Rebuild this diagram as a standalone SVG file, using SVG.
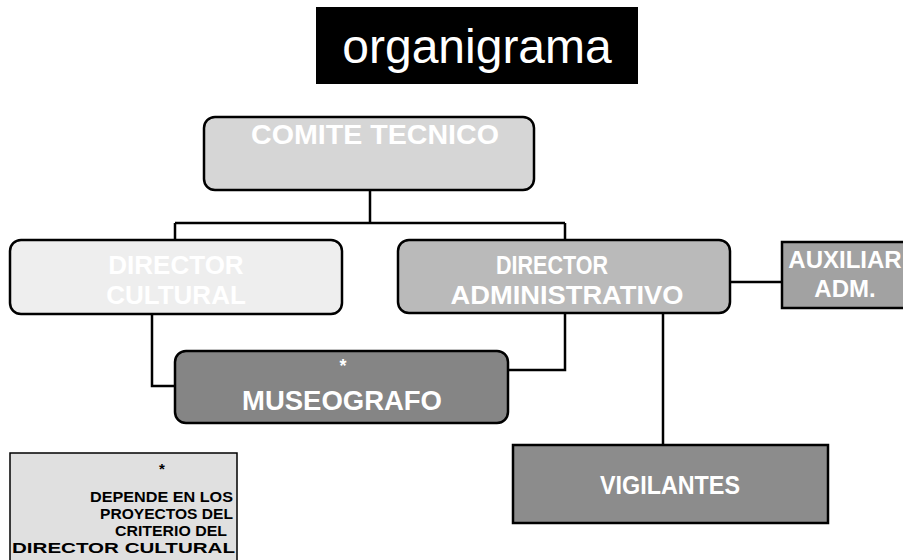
<svg xmlns="http://www.w3.org/2000/svg" width="903" height="560" viewBox="0 0 903 560">
  <style>
    .box { stroke: #000; stroke-width: 2.5; }
    .lbl { font-family: "Liberation Sans", Arial, sans-serif; font-weight: bold; fill: #fff; text-anchor: middle; }
    .note { font-family: "Liberation Sans", Arial, sans-serif; font-weight: bold; fill: #000; font-size: 15px; }
    .conn { stroke: #000; stroke-width: 2.5; fill: none; }
  </style>
  <rect width="903" height="560" fill="#fff"/>
  <g id="title">
    <rect x="316" y="7" width="322" height="77" fill="#000"/>
    <text x="477" y="63" font-family="'Liberation Sans', Arial, sans-serif" font-size="48" fill="#fff" text-anchor="middle">organigrama</text>
  </g>
  <g id="connectors">
    <path class="conn" d="M370 190 V223 M175 223 H565 M175 223 V240 M565 223 V240"/>
    <path class="conn" d="M152 314 V386 H175"/>
    <path class="conn" d="M565 313 V370 H508"/>
    <path class="conn" d="M730 282 H782"/>
    <path class="conn" d="M663 313 V445"/>
  </g>
  <g id="comite">
    <rect class="box" x="204" y="117" width="330" height="73" rx="11" fill="#d6d6d6"/>
    <text class="lbl" x="375" y="144" font-size="27" textLength="248" lengthAdjust="spacingAndGlyphs">COMITE TECNICO</text>
  </g>
  <g id="director-cultural">
    <rect class="box" x="10" y="240" width="332" height="74" rx="11" fill="#eeeeee"/>
    <text class="lbl" x="176" y="274" font-size="26">DIRECTOR</text>
    <text class="lbl" x="176" y="304" font-size="26">CULTURAL</text>
  </g>
  <g id="director-administrativo">
    <rect class="box" x="398" y="240" width="332" height="73" rx="11" fill="#bababa"/>
    <text class="lbl" x="552" y="274" font-size="26" textLength="112" lengthAdjust="spacingAndGlyphs">DIRECTOR</text>
    <text class="lbl" x="567" y="304" font-size="26" textLength="233" lengthAdjust="spacingAndGlyphs">ADMINISTRATIVO</text>
  </g>
  <g id="auxiliar">
    <rect class="box" x="782" y="242" width="130" height="66" fill="#a2a2a2"/>
    <text class="lbl" x="845" y="268" font-size="24">AUXILIAR</text>
    <text class="lbl" x="845" y="297" font-size="24">ADM.</text>
  </g>
  <g id="museografo">
    <rect class="box" x="175" y="351" width="333" height="72" rx="11" fill="#858585"/>
    <text class="lbl" x="343" y="372" font-size="18">*</text>
    <text class="lbl" x="342" y="410" font-size="28" textLength="200" lengthAdjust="spacingAndGlyphs">MUSEOGRAFO</text>
  </g>
  <g id="vigilantes">
    <rect class="box" x="513" y="445" width="315" height="78" fill="#8c8c8c"/>
    <text class="lbl" x="670" y="494" font-size="26" textLength="140" lengthAdjust="spacingAndGlyphs">VIGILANTES</text>
  </g>
  <g id="nota">
    <rect x="10" y="453" width="227" height="110" fill="#e0e0e0" stroke="#000" stroke-width="1.5"/>
    <text class="note" x="162" y="474" text-anchor="middle" font-size="18">*</text>
    <text class="note" x="90" y="502" textLength="143" lengthAdjust="spacingAndGlyphs">DEPENDE EN LOS</text>
    <text class="note" x="100" y="519" textLength="133" lengthAdjust="spacingAndGlyphs">PROYECTOS DEL</text>
    <text class="note" x="115" y="536" textLength="112" lengthAdjust="spacingAndGlyphs">CRITERIO DEL</text>
    <text class="note" x="12" y="553" textLength="223" lengthAdjust="spacingAndGlyphs">DIRECTOR CULTURAL</text>
  </g>
</svg>
